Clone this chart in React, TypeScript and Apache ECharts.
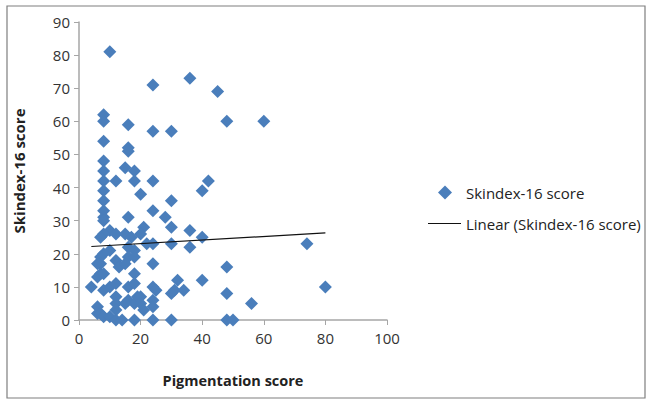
import React, { useEffect, useRef } from "react";
import * as echarts from "echarts";

const pigmentation: number[] = [
  10, 24, 36, 45, 48, 60, 8, 8, 16, 24, 30, 8, 16, 16, 8, 15, 18, 8, 8, 12, 18, 24, 42, 40, 8, 20,
  30, 8, 24, 8, 28, 16, 8, 8, 30, 21, 36, 10, 8, 7, 12, 15, 17, 20, 40, 24, 30, 36, 74, 22, 16, 18,
  10, 8, 7, 16, 18, 7, 6, 12, 13, 15, 24, 48, 6, 7, 8, 18, 4, 8, 10, 12, 16, 18, 24, 25, 32, 31, 30,
  34, 40, 48, 80, 56, 6, 6, 7, 8, 10, 12, 12, 12, 12, 14, 16, 18, 19, 20, 20, 18, 21, 24, 24, 24, 30,
  48, 50, 15,
];
const skindex: number[] = [
  81, 71, 73, 69, 60, 60, 62, 60, 59, 57, 57, 54, 52, 51, 48, 46, 45, 45, 42, 42, 42, 42, 42, 39, 39, 38,
  36, 36, 33, 33, 31, 31, 31, 30, 28, 28, 27, 27, 26, 25, 26, 26, 25, 26, 25, 23, 23, 22, 23, 23, 22, 21,
  21, 20, 19, 19, 19, 17, 17, 18, 16, 17, 17, 16, 13, 14, 14, 14, 10, 9, 10, 11, 10, 11, 10, 9, 12, 9, 8,
  9, 12, 8, 10, 5, 4, 2, 2, 1, 1, 7, 5, 3, 0, 0, 6, 5, 7, 7, 5, 0, 3, 6, 4, 0, 0,
  0, 0, 5,
];
const trendX: number[] = [4, 80];
const trendY: number[] = [22.2, 26.3];
const xTicks: number[] = [0, 20, 40, 60, 80, 100];
const yTicks: number[] = [0, 10, 20, 30, 40, 50, 60, 70, 80, 90];

const seriesName = "Skindex-16 score";
const trendName = "Linear (Skindex-16 score)";
const font = "'Open Sans', 'Liberation Sans', sans-serif";

export default function App() {
  const ref = useRef<HTMLDivElement>(null);
  useEffect(() => {
    if (!ref.current) return;
    const chart = echarts.init(ref.current, undefined, { renderer: "svg" });
    const points = pigmentation.map((x, i) => [x, skindex[i]]);
    const trend = trendX.map((x, i) => [x, trendY[i]]);
    chart.setOption({
      animation: false,
      backgroundColor: "#ffffff",
      textStyle: { fontFamily: font },
      grid: { left: 79, right: 260, top: 22, bottom: 81 },
      xAxis: {
        type: "value",
        min: xTicks[0],
        max: xTicks[xTicks.length - 1],
        interval: 20,
        name: "Pigmentation score",
        nameLocation: "middle",
        nameGap: 53,
        nameTextStyle: { fontFamily: font, fontSize: 14.5, fontWeight: "bold", color: "#222" },
        axisLine: { lineStyle: { color: "#a6a6a6", width: 1.5 } },
        axisTick: { show: true, length: 5, inside: false, lineStyle: { color: "#a6a6a6" } },
        axisLabel: { fontSize: 15, color: "#333", margin: 10 },
        splitLine: { show: false },
      },
      yAxis: {
        type: "value",
        min: yTicks[0],
        max: yTicks[yTicks.length - 1],
        interval: 10,
        name: "Skindex-16 score",
        nameLocation: "middle",
        nameGap: 53,
        nameTextStyle: { fontFamily: font, fontSize: 15, fontWeight: "bold", color: "#222" },
        axisLine: { show: true, lineStyle: { color: "#a6a6a6", width: 1.5 } },
        axisTick: { show: true, length: 5, lineStyle: { color: "#a6a6a6" } },
        axisLabel: { fontSize: 15, color: "#333", margin: 9 },
        splitLine: { show: false },
      },
      legend: [
        {
          orient: "vertical",
          left: 438,
          top: 185,
          padding: 0,
          itemWidth: 14,
          itemHeight: 14,
          textStyle: { fontFamily: font, fontSize: 15, color: "#222", padding: [0, 0, 0, 9] },
          data: [{ name: seriesName, icon: "diamond" }],
        },
        {
          orient: "vertical",
          left: 428,
          top: 216,
          padding: 0,
          itemWidth: 33,
          itemHeight: 16,
          textStyle: { fontFamily: font, fontSize: 15, color: "#222" },
          data: [
            {
              name: trendName,
              icon: "path://M0,7.4 L33,7.4 L33,8.6 L0,8.6 Z",
              itemStyle: { color: "#111" },
            },
          ],
        },
      ],
      graphic: [
        {
          type: "rect",
          shape: { x: 7, y: 6, width: 638, height: 392 },
          style: { fill: "none", stroke: "#7f7f7f", lineWidth: 1.2 },
          silent: true,
        },
      ],
      series: [
        {
          name: seriesName,
          type: "scatter",
          symbol: "diamond",
          symbolSize: 13,
          itemStyle: { color: "#4a7ebb", opacity: 1 },
          data: points,
          z: 2,
        },
        {
          name: trendName,
          type: "line",
          symbol: "none",
          lineStyle: { color: "#111", width: 1.2 },
          itemStyle: { color: "#111" },
          data: trend,
          z: 3,
        },
      ],
    });
    return () => chart.dispose();
  }, []);
  return (
    <div
      ref={ref}
      style={{ position: "absolute", left: 0, top: 0, width: 647, height: 401 }}
    />
  );
}
